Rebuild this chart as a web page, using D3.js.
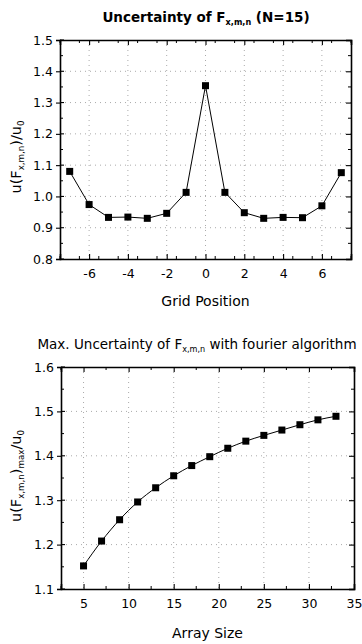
<!DOCTYPE html>
<html>
<head>
<meta charset="utf-8">
<script src="https://cdn.jsdelivr.net/npm/d3@7"></script>
<style>
  body { margin: 0; background: #fff; }
  svg { display: block; font-family: "DejaVu Sans", Verdana, sans-serif; }
</style>
</head>
<body>
<svg id="chart" width="362" height="644"></svg>
<script>
// top panel: uncertainty along the grid (N=15)
const gridPos = [-7, -6, -5, -4, -3, -2, -1, 0, 1, 2, 3, 4, 5, 6, 7];
const gridUnc = [1.08, 0.974, 0.933, 0.934, 0.930, 0.946, 1.013, 1.354, 1.013, 0.948, 0.930, 0.933, 0.932, 0.970, 1.076];
const gridXTicks = [-6, -4, -2, 0, 2, 4, 6];
const gridYTicks = [0.8, 0.9, 1.0, 1.1, 1.2, 1.3, 1.4, 1.5];

// bottom panel: max uncertainty vs array size
const arraySize = [5, 7, 9, 11, 13, 15, 17, 19, 21, 23, 25, 27, 29, 31, 33];
const maxUnc = [1.152, 1.208, 1.256, 1.296, 1.328, 1.355, 1.378, 1.398, 1.417, 1.433, 1.446, 1.458, 1.470, 1.481, 1.489];
const sizeXTicks = [5, 10, 15, 20, 25, 30, 35];
const sizeYTicks = [1.1, 1.2, 1.3, 1.4, 1.5, 1.6];

const svg = d3.select("#chart");

function addSubText(sel, parts) {
    // parts: [text, isSub]
    let prevSub = false;
    parts.forEach(p => {
        const t = sel.append("tspan").text(p[0]);
        if (p[1]) {
            t.attr("font-size", "0.6em").attr("dy", prevSub ? 0 : "0.35em");
        } else if (prevSub) {
            t.attr("dy", "-0.21em");
        }
        prevSub = p[1];
    });
}

function drawPanel(opt) {
    const g = svg.append("g");
    const x = d3.scaleLinear().domain(opt.xDomain).range([opt.left, opt.right]);
    const y = d3.scaleLinear().domain(opt.yDomain).range([opt.bottom, opt.top]);

    // dotted grid
    g.selectAll(".gx").data(opt.xTicks.filter(d => d > opt.xDomain[0] && d < opt.xDomain[1]))
        .enter().append("line")
        .attr("x1", d => x(d)).attr("x2", d => x(d))
        .attr("y1", opt.top).attr("y2", opt.bottom)
        .attr("stroke", "#aaa").attr("stroke-width", 1).attr("stroke-dasharray", "1,4");
    g.selectAll(".gy").data(opt.yTicks.filter(d => d > opt.yDomain[0] && d < opt.yDomain[1]))
        .enter().append("line")
        .attr("y1", d => y(d)).attr("y2", d => y(d))
        .attr("x1", opt.left).attr("x2", opt.right)
        .attr("stroke", "#aaa").attr("stroke-width", 1).attr("stroke-dasharray", "1,4");

    // minor tick positions
    const minorX = d3.range(opt.xDomain[0], opt.xDomain[1] + 0.001, opt.xMinor).filter(v => !opt.xTicks.some(t => Math.abs(t - v) < 1e-6));
    const minorY = d3.range(opt.yDomain[0], opt.yDomain[1] + 0.001, opt.yMinor).filter(v => !opt.yTicks.some(t => Math.abs(t - v) < 1e-6));

    const fmtY = d3.format(".1f");
    const fmtX = d => String(d);
    const bottomAx = g.append("g").attr("transform", `translate(0,${opt.bottom})`)
        .call(d3.axisBottom(x).tickValues(opt.xTicks).tickSize(-5).tickPadding(10).tickFormat(fmtX));
    const topAx = g.append("g").attr("transform", `translate(0,${opt.top})`)
        .call(d3.axisTop(x).tickValues(opt.xTicks).tickSize(-5).tickFormat(""));
    const leftAx = g.append("g").attr("transform", `translate(${opt.left},0)`)
        .call(d3.axisLeft(y).tickValues(opt.yTicks).tickSize(4).tickPadding(3).tickFormat(fmtY));
    const rightAx = g.append("g").attr("transform", `translate(${opt.right},0)`)
        .call(d3.axisRight(y).tickValues(opt.yTicks).tickSize(-5).tickFormat(""));
    [bottomAx, topAx, leftAx, rightAx].forEach(a => {
        a.select(".domain").attr("stroke-width", 1.6);
        a.selectAll("line").attr("stroke-width", 1.1);
        a.selectAll("text").attr("font-size", 12.5).attr("fill", "#000")
            .attr("font-family", "'DejaVu Sans', Verdana, sans-serif");
    });
    // left ticks also reach inward
    g.selectAll(".lt").data(opt.yTicks).enter().append("line")
        .attr("x1", opt.left).attr("x2", opt.left + 4)
        .attr("y1", d => y(d)).attr("y2", d => y(d)).attr("stroke", "#000").attr("stroke-width", 1.1);

    // minor ticks
    [opt.top, opt.bottom].forEach(yy => {
        g.selectAll(null).data(minorX).enter().append("line")
            .attr("x1", d => x(d)).attr("x2", d => x(d))
            .attr("y1", yy).attr("y2", yy === opt.top ? yy + 3 : yy - 3)
            .attr("stroke", "#000").attr("stroke-width", 1);
    });
    [opt.left, opt.right].forEach(xx => {
        g.selectAll(null).data(minorY).enter().append("line")
            .attr("y1", d => y(d)).attr("y2", d => y(d))
            .attr("x1", xx).attr("x2", xx === opt.left ? xx + 3 : xx - 3)
            .attr("stroke", "#000").attr("stroke-width", 1);
    });

    // line + markers
    const pts = opt.xs.map((v, i) => [v, opt.ys[i]]);
    const line = d3.line().x(d => x(d[0])).y(d => y(d[1])).curve(opt.curve || d3.curveLinear);
    g.append("path").datum(pts).attr("d", line)
        .attr("fill", "none").attr("stroke", "#000").attr("stroke-width", 1);
    g.selectAll(".pt").data(pts).enter().append("rect")
        .attr("x", d => x(d[0]) - 3.5).attr("y", d => y(d[1]) - 3.5)
        .attr("width", 7).attr("height", 7).attr("fill", "#000");

    // title
    const title = g.append("text").attr("x", opt.titleX).attr("y", opt.titleY)
        .attr("text-anchor", "middle").attr("font-size", opt.titleSize)
        .attr("font-weight", opt.titleBold ? "bold" : "normal");
    addSubText(title, opt.title);

    // x label
    g.append("text").attr("x", (opt.left + opt.right) / 2).attr("y", opt.xLabelY)
        .attr("text-anchor", "middle").attr("font-size", 14).text(opt.xLabel);

    // y label
    const yl = g.append("text")
        .attr("transform", `translate(${opt.yLabelX},${opt.yLabelY}) rotate(-90)`)
        .attr("text-anchor", "middle").attr("font-size", 14.5);
    addSubText(yl, opt.yLabel);
}

drawPanel({
    xs: gridPos, ys: gridUnc,
    xDomain: [-7.5, 7.5], yDomain: [0.8, 1.5],
    xTicks: gridXTicks, yTicks: gridYTicks, xMinor: 1, yMinor: 0.05,
    left: 60, right: 351, top: 40, bottom: 259,
    title: [["Uncertainty of F", false], ["x,m,n", true], [" (N=15)", false]],
    titleX: 206, titleY: 22, titleSize: 13.5, titleBold: true,
    xLabel: "Grid Position", xLabelY: 306,
    yLabel: [["u(F", false], ["x,m,n", true], [")/u", false], ["0", true]], yLabelX: 21, yLabelY: 157
});

drawPanel({
    xs: arraySize, ys: maxUnc,
    xDomain: [2.5, 35], yDomain: [1.1, 1.6],
    xTicks: sizeXTicks, yTicks: sizeYTicks, xMinor: 2.5, yMinor: 0.05,
    left: 61, right: 354, top: 367, bottom: 589,
    curve: d3.curveMonotoneX,
    title: [["Max. Uncertainty of F", false], ["x,m,n", true], [" with fourier algorithm", false]],
    titleX: 197, titleY: 349, titleSize: 13.5, titleBold: false,
    xLabel: "Array Size", xLabelY: 638,
    yLabel: [["u(F", false], ["x,m,n", true], [")", false], ["max", true], ["/u", false], ["0", true]], yLabelX: 21, yLabelY: 476
});
</script>
</body>
</html>
